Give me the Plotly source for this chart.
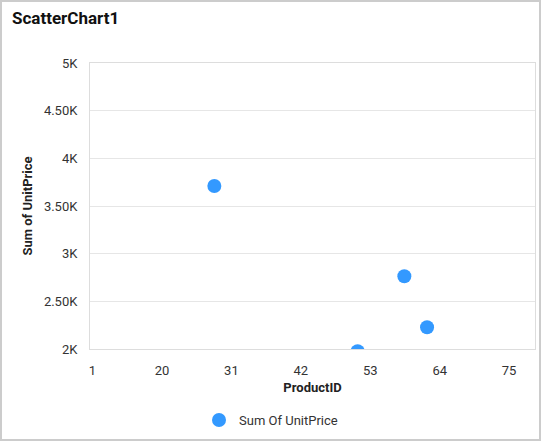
"""Scatter chart: Sum of UnitPrice by ProductID."""

import plotly.graph_objects as go

# data
product_id = [28.3, 58.4, 62, 51]
unit_price = [3710, 2763, 2228, 1977]

x_tick_pos = [9, 20, 31, 42, 53, 64, 75]
x_tick_text = ["1", "20", "31", "42", "53", "64", "75"]
y_tick_vals = [2000, 2500, 3000, 3500, 4000, 4500, 5000]
y_tick_text = ["2K", "2.50K", "3K", "3.50K", "4K", "4.50K", "5K"]

W, H = 541, 441
ML, MR, MT, MB = 90, 6, 63, 92

fig = go.Figure()

fig.add_trace(
    go.Scatter(
        x=product_id,
        y=unit_price,
        mode="markers",
        name="Sum Of UnitPrice",
        marker={"size": 14, "color": "#3399ff"},
        cliponaxis=True,
    ),
)

pw = W - ML - MR
ph = H - MT - MB

fig.update_layout(
    width=W,
    height=H,
    margin={"l": ML, "r": MR, "t": MT, "b": MB, "pad": 0},
    paper_bgcolor="white",
    plot_bgcolor="white",
    font={"family": "Roboto, Arial, sans-serif", "size": 13, "color": "#333"},
    title={
        "text": "<b>ScatterChart1</b>",
        "font": {"size": 17, "color": "#111"},
        "xref": "container",
        "yref": "container",
        "x": 12 / W,
        "y": 1 - 18 / H,
        "xanchor": "left",
        "yanchor": "middle",
    },
    showlegend=True,
    legend={
        "orientation": "h",
        "xref": "paper",
        "yref": "paper",
        "x": (271 - ML) / pw,
        "y": -(420 - MT - ph) / ph,
        "xanchor": "center",
        "yanchor": "middle",
        "font": {"size": 13, "color": "#333"},
        "itemwidth": 30,
    },
    xaxis={
        "range": [8.6, 79.1],
        "tickvals": x_tick_pos,
        "ticktext": x_tick_text,
        "showgrid": False,
        "zeroline": False,
        "showline": True,
        "mirror": True,
        "linecolor": "#dddddd",
        "linewidth": 1,
        "ticks": "outside",
        "ticklen": 9,
        "tickcolor": "rgba(0,0,0,0)",
        "tickfont": {"size": 13, "color": "#333"},
        "title": {
            "text": "<b>ProductID</b>",
            "font": {"size": 13, "color": "#222"},
            "standoff": 6,
        },
    },
    yaxis={
        "range": [2000, 5000],
        "tickvals": y_tick_vals,
        "ticktext": y_tick_text,
        "showgrid": True,
        "gridcolor": "#e6e6e6",
        "zeroline": False,
        "showline": True,
        "mirror": True,
        "linecolor": "#dddddd",
        "linewidth": 1,
        "ticks": "outside",
        "ticklen": 9,
        "tickcolor": "rgba(0,0,0,0)",
        "tickfont": {"size": 13, "color": "#333"},
        "title": {
            "text": "<b>Sum of UnitPrice</b>",
            "font": {"size": 13, "color": "#222"},
            "standoff": 8,
        },
    },
)

# outer border of the whole chart
fig.add_shape(
    type="rect",
    xref="paper",
    yref="paper",
    x0=-(ML - 1) / pw,
    x1=1 + (MR - 1) / pw,
    y0=-(MB - 1) / ph,
    y1=1 + (MT - 1) / ph,
    line={"color": "#cccccc", "width": 2},
    layer="above",
)

# drop the browser's default page margin so the chart fills the window
fig.write_html(
    "out.html",
    config={"displayModeBar": False},
    post_script="document.body.style.margin = '0';",
)
